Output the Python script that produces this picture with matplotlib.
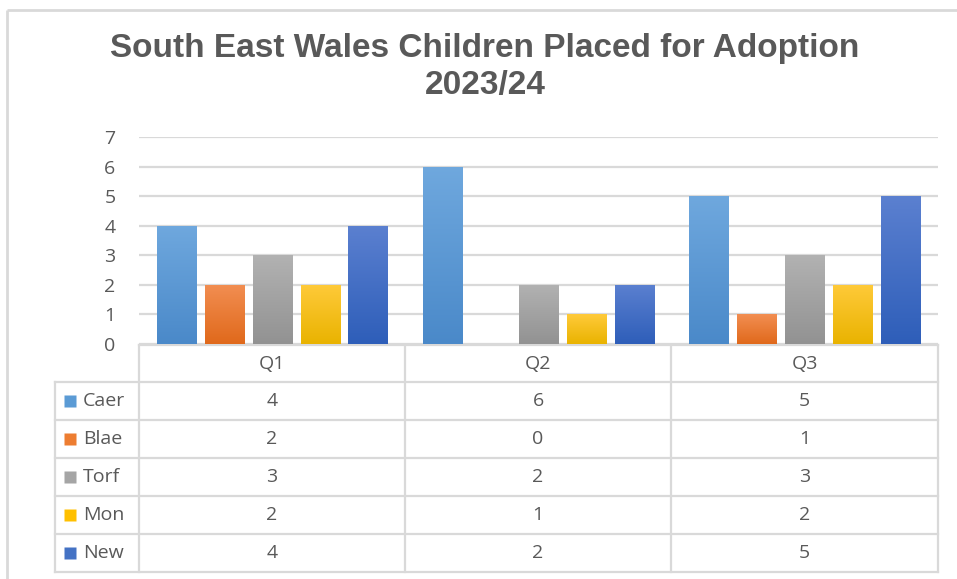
import matplotlib
matplotlib.use("Agg")
import matplotlib.pyplot as plt
import numpy as np
from matplotlib.colors import LinearSegmentedColormap

# data
quarters = ["Q1", "Q2", "Q3"]
areas = ["Caer", "Blae", "Torf", "Mon", "New"]
caer = [4, 6, 5]
blae = [2, 0, 1]
torf = [3, 2, 3]
mon = [2, 1, 2]
new = [4, 2, 5]
series = [caer, blae, torf, mon, new]

# (top, bottom) gradient colours for each series
grads = [("#6fa8de", "#4a89c9"),
         ("#f28e52", "#e0691b"),
         ("#b2b2b2", "#929292"),
         ("#ffca3a", "#e9b300"),
         ("#5b80d0", "#2e5eb9")]
swatch = ["#5b9bd5", "#ed7d31", "#a5a5a5", "#ffc000", "#4472c4"]

W, H = 957, 579
txt = "#595959"
line = "#d9d9d9"
font = "Open Sans"
fs = 14

fig = plt.figure(figsize=(W / 100, H / 100), dpi=100)

# pixel-space overlay for frame and data table
ov = fig.add_axes([0, 0, 1, 1])
ov.set_xlim(0, W)
ov.set_ylim(H, 0)
ov.axis("off")

# chart frame
ov.plot([7, W], [10, 10], color=line, lw=2, solid_capstyle="butt")
ov.plot([7, 7], [10, H], color=line, lw=2, solid_capstyle="butt")

px_left, px_right, px_top, px_bot = 139, 938, 137, 344
ymax = 7

ax = fig.add_axes([px_left / W, 1 - px_bot / H,
                   (px_right - px_left) / W, (px_bot - px_top) / H])
ax.set_xlim(-0.5, len(quarters) - 0.5)
ax.set_ylim(0, ymax)
ax.set_yticks(range(0, ymax + 1))
ax.tick_params(axis="y", length=0, pad=17, labelsize=fs, labelcolor=txt)
for lab in ax.get_yticklabels():
    lab.set_fontfamily(font)
ax.set_xticks([])
for s in ax.spines.values():
    s.set_visible(False)
ax.grid(axis="y", color=line, lw=1.6)
ax.set_axisbelow(True)

x = np.arange(len(quarters))
step, width = 0.18, 0.147
grad_img = np.linspace(0, 1, 256).reshape(-1, 1)
for i, (vals, (ctop, cbot)) in enumerate(zip(series, grads)):
    bars = ax.bar(x + (i - 2) * step, vals, width, color=cbot, zorder=2)
    cmap = LinearSegmentedColormap.from_list("g%d" % i, [cbot, ctop])
    for b in bars:
        if b.get_height() <= 0:
            continue
        bx, by = b.get_x(), b.get_y()
        im = ax.imshow(grad_img, cmap=cmap, origin="lower", aspect="auto",
                       extent=[bx, bx + b.get_width(), by, by + b.get_height()],
                       zorder=3)
        im.set_clip_path(b)
ax.set_xlim(-0.5, len(quarters) - 0.5)
ax.set_ylim(0, ymax)

fig.suptitle("South East Wales Children Placed for Adoption\n2023/24",
             x=485 / W, y=1 - 33 / H, va="top", fontsize=24, fontweight="bold",
             color=txt, family="Liberation Sans", linespacing=1.27)

# data table
cols = [139, 405, 671, 938]
rows = [345, 382, 420, 458, 496, 534, 572]
lab_left = 55
lw = 1.6
ov.plot([cols[0], cols[-1]], [rows[0], rows[0]], color=line, lw=lw)
for yy in rows[1:]:
    ov.plot([lab_left, cols[-1]], [yy, yy], color=line, lw=lw)
for xx in cols:
    ov.plot([xx, xx], [rows[0], rows[-1]], color=line, lw=lw)
ov.plot([lab_left, lab_left], [rows[1], rows[-1]], color=line, lw=lw)

for j, q in enumerate(quarters):
    cx = (cols[j] + cols[j + 1]) / 2
    ov.text(cx, (rows[0] + rows[1]) / 2, q, ha="center", va="center",
            fontsize=fs, color=txt, family=font)
for i, (name, vals) in enumerate(zip(areas, series)):
    cy = (rows[i + 1] + rows[i + 2]) / 2
    ov.plot(70, cy, marker="s", ms=9, color=swatch[i], mec="none")
    ov.text(83, cy, name, ha="left", va="center", fontsize=fs, color=txt,
            family=font)
    for j, v in enumerate(vals):
        cx = (cols[j] + cols[j + 1]) / 2
        ov.text(cx, cy, str(v), ha="center", va="center", fontsize=fs,
                color=txt, family=font)

fig.savefig("out.png", dpi=100)
